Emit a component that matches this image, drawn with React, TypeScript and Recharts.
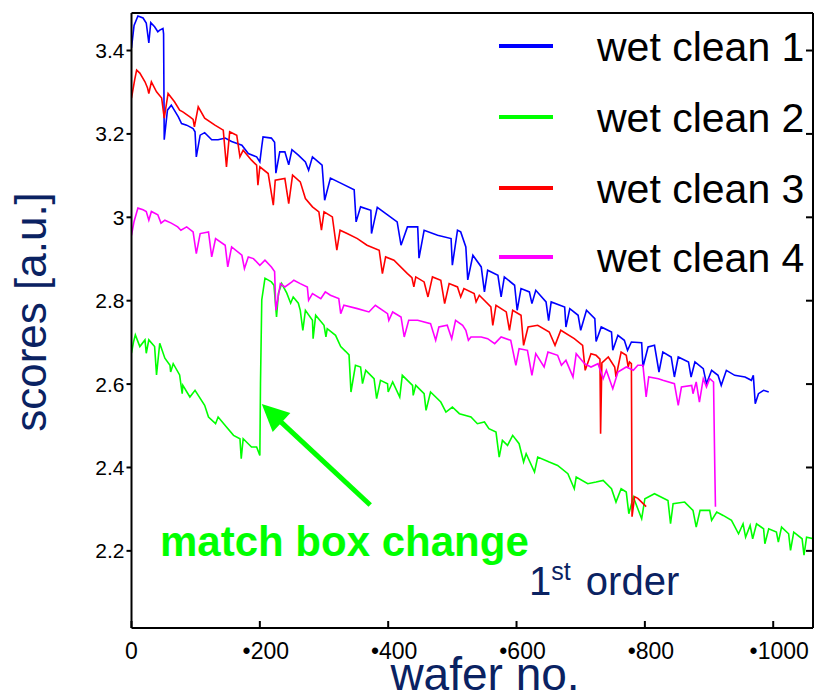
import React from "react";
import { LineChart, Line, XAxis, YAxis, ReferenceLine } from "recharts";

// series: [wafer no., score]
const wetClean1: [number, number][] = [
  [0, 3.406], [4, 3.46], [10, 3.483], [18, 3.478], [23, 3.466], [27, 3.418], [30, 3.467], [36, 3.457],
  [41, 3.445], [44, 3.449], [49, 3.453], [50, 3.44], [51, 3.186], [56, 3.257], [62, 3.269], [73, 3.241],
  [78, 3.225], [86, 3.221], [96, 3.213], [99, 3.205], [101, 3.145], [107, 3.197], [114, 3.203], [125, 3.186],
  [135, 3.186], [146, 3.19], [156, 3.182], [172, 3.173], [182, 3.153], [195, 3.145], [200, 3.133], [203, 3.17],
  [205, 3.193], [218, 3.19], [223, 3.18], [225, 3.106], [231, 3.157], [239, 3.157], [245, 3.126], [250, 3.162],
  [260, 3.149], [271, 3.133], [276, 3.113], [282, 3.145], [297, 3.125], [301, 3.041], [310, 3.094], [326, 3.082],
  [347, 3.066], [350, 2.989], [357, 3.025], [373, 3.017], [374, 2.961], [383, 3.024], [399, 3.006], [414, 2.989],
  [420, 2.933], [430, 2.977], [446, 2.977], [448, 2.902], [456, 2.969], [477, 2.957], [498, 2.949], [500, 2.885],
  [508, 2.969], [513, 2.965], [521, 2.929], [524, 2.85], [532, 2.909], [545, 2.881], [550, 2.821], [555, 2.873],
  [571, 2.861], [576, 2.809], [581, 2.857], [597, 2.837], [601, 2.777], [607, 2.829], [620, 2.821], [624, 2.793],
  [630, 2.825], [646, 2.797], [650, 2.752], [654, 2.797], [675, 2.785], [677, 2.737], [683, 2.781], [696, 2.765],
  [700, 2.729], [709, 2.777], [722, 2.757], [724, 2.702], [732, 2.737], [748, 2.725], [750, 2.681], [758, 2.717],
  [768, 2.705], [773, 2.681], [779, 2.701], [795, 2.699], [797, 2.641], [805, 2.689], [815, 2.693], [822, 2.629],
  [828, 2.677], [841, 2.665], [846, 2.617], [852, 2.665], [868, 2.653], [872, 2.617], [878, 2.653], [891, 2.637],
  [896, 2.601], [904, 2.633], [914, 2.621], [919, 2.597], [927, 2.633], [940, 2.621], [956, 2.617], [966, 2.609],
  [969, 2.621], [972, 2.553], [977, 2.577], [985, 2.585], [993, 2.581],
];

const wetClean2: [number, number][] = [
  [0, 2.674], [3, 2.7], [6, 2.718], [13, 2.69], [21, 2.706], [23, 2.674], [27, 2.706], [36, 2.69],
  [39, 2.622], [44, 2.698], [52, 2.662], [60, 2.645], [61, 2.629], [65, 2.649], [75, 2.622], [79, 2.577],
  [80, 2.597], [91, 2.569], [99, 2.585], [114, 2.549], [120, 2.521], [131, 2.505], [135, 2.521], [148, 2.497],
  [159, 2.477], [169, 2.469], [171, 2.421], [174, 2.469], [187, 2.449], [195, 2.449], [200, 2.429], [201, 2.6],
  [203, 2.802], [208, 2.854], [218, 2.845], [222, 2.837], [226, 2.761], [229, 2.818], [234, 2.841], [242, 2.818],
  [248, 2.794], [252, 2.809], [260, 2.794], [263, 2.777], [267, 2.729], [271, 2.777], [282, 2.753], [283, 2.709],
  [287, 2.765], [300, 2.741], [303, 2.713], [305, 2.733], [318, 2.717], [326, 2.69], [334, 2.678], [339, 2.67],
  [342, 2.581], [349, 2.645], [357, 2.641], [360, 2.601], [365, 2.633], [378, 2.613], [382, 2.565], [388, 2.609],
  [399, 2.601], [400, 2.581], [407, 2.605], [418, 2.569], [422, 2.621], [438, 2.597], [439, 2.573], [443, 2.597],
  [456, 2.577], [459, 2.537], [466, 2.581], [482, 2.557], [490, 2.533], [500, 2.545], [511, 2.529], [529, 2.521],
  [539, 2.505], [550, 2.509], [557, 2.493], [568, 2.485], [573, 2.425], [578, 2.465], [586, 2.453], [594, 2.477],
  [604, 2.457], [611, 2.413], [615, 2.433], [628, 2.389], [633, 2.425], [651, 2.413], [664, 2.405], [680, 2.385],
  [690, 2.349], [693, 2.377], [711, 2.361], [724, 2.365], [735, 2.369], [748, 2.349], [755, 2.317], [763, 2.349],
  [771, 2.341], [775, 2.289], [782, 2.329], [795, 2.277], [800, 2.325], [815, 2.337], [836, 2.321], [840, 2.265],
  [844, 2.313], [862, 2.317], [875, 2.297], [880, 2.257], [886, 2.297], [901, 2.297], [904, 2.273], [912, 2.293],
  [922, 2.285], [935, 2.273], [946, 2.241], [953, 2.265], [957, 2.233], [964, 2.261], [968, 2.229], [974, 2.265],
  [985, 2.253], [987, 2.217], [993, 2.253], [1005, 2.245], [1008, 2.221], [1013, 2.257], [1024, 2.241], [1027, 2.201],
  [1032, 2.245], [1045, 2.229], [1048, 2.19], [1052, 2.233], [1063, 2.229],
];

const wetClean3: [number, number][] = [
  [0, 3.286], [5, 3.33], [8, 3.353], [13, 3.346], [21, 3.325], [25, 3.31], [27, 3.297], [31, 3.325],
  [39, 3.301], [47, 3.286], [51, 3.238], [57, 3.297], [67, 3.277], [75, 3.257], [80, 3.253], [91, 3.241],
  [96, 3.235], [98, 3.217], [104, 3.265], [114, 3.238], [130, 3.221], [143, 3.209], [148, 3.121], [153, 3.205],
  [164, 3.197], [169, 3.145], [174, 3.161], [187, 3.137], [195, 3.125], [197, 3.077], [200, 3.121], [213, 3.105],
  [221, 3.029], [224, 3.089], [239, 3.093], [245, 3.033], [251, 3.101], [263, 3.085], [271, 3.045], [282, 3.025],
  [292, 3.013], [296, 2.969], [300, 3.013], [313, 3.001], [320, 2.921], [325, 2.969], [336, 2.961], [352, 2.949],
  [367, 2.933], [386, 2.921], [391, 2.865], [396, 2.905], [409, 2.897], [430, 2.865], [437, 2.855], [440, 2.833],
  [443, 2.857], [456, 2.845], [462, 2.809], [469, 2.857], [482, 2.849], [488, 2.793], [495, 2.841], [508, 2.833],
  [513, 2.809], [518, 2.829], [534, 2.817], [537, 2.797], [542, 2.813], [560, 2.785], [563, 2.741], [568, 2.789],
  [584, 2.773], [589, 2.729], [594, 2.777], [607, 2.765], [611, 2.693], [618, 2.737], [633, 2.741], [651, 2.725],
  [660, 2.693], [669, 2.729], [690, 2.709], [703, 2.693], [707, 2.633], [716, 2.673], [724, 2.669], [730, 2.66],
  [731, 2.481], [733, 2.651], [743, 2.665], [753, 2.641], [755, 2.617], [763, 2.677], [771, 2.669], [774, 2.641],
  [776, 2.653], [779, 2.649], [780, 2.282], [784, 2.33], [789, 2.326], [795, 2.317], [802, 2.306],
];

const wetClean4: [number, number][] = [
  [0, 2.957], [4, 2.99], [10, 3.022], [18, 3.018], [23, 3.014], [27, 2.993], [31, 3.014], [41, 3.006],
  [46, 2.986], [52, 2.993], [62, 2.986], [72, 2.977], [77, 2.969], [86, 2.977], [96, 2.965], [101, 2.913],
  [107, 2.961], [120, 2.965], [125, 2.905], [131, 2.949], [146, 2.933], [150, 2.881], [156, 2.929], [172, 2.909],
  [176, 2.877], [182, 2.905], [190, 2.901], [200, 2.885], [208, 2.897], [218, 2.881], [223, 2.87], [225, 2.777],
  [232, 2.841], [239, 2.833], [250, 2.845], [253, 2.849], [263, 2.841], [274, 2.833], [276, 2.801], [282, 2.817],
  [295, 2.805], [302, 2.821], [310, 2.813], [323, 2.805], [326, 2.769], [331, 2.789], [352, 2.781], [370, 2.773],
  [380, 2.789], [399, 2.769], [401, 2.753], [407, 2.773], [420, 2.761], [425, 2.713], [432, 2.753], [446, 2.753],
  [466, 2.745], [474, 2.705], [479, 2.737], [492, 2.741], [499, 2.709], [505, 2.753], [516, 2.741], [521, 2.729],
  [525, 2.705], [529, 2.713], [545, 2.713], [555, 2.709], [566, 2.697], [576, 2.713], [591, 2.705], [599, 2.645],
  [604, 2.685], [617, 2.681], [624, 2.621], [630, 2.673], [643, 2.641], [649, 2.677], [664, 2.669], [670, 2.645],
  [677, 2.657], [688, 2.617], [693, 2.673], [706, 2.649], [716, 2.641], [727, 2.649], [735, 2.613], [740, 2.633],
  [750, 2.589], [758, 2.629], [771, 2.641], [782, 2.633], [789, 2.645], [797, 2.645], [802, 2.569], [806, 2.617],
  [821, 2.613], [828, 2.609], [846, 2.601], [852, 2.549], [857, 2.593], [873, 2.597], [875, 2.577], [880, 2.605],
  [885, 2.557], [891, 2.613], [896, 2.593], [901, 2.613], [907, 2.605], [909, 2.394], [910, 2.306],
];

const seriesNames = ["wet clean 1", "wet clean 2", "wet clean 3", "wet clean 4"];
const seriesColors = ["#0000ff", "#00ff00", "#ff0000", "#ff00ff"];
const seriesData = [wetClean1, wetClean2, wetClean3, wetClean4];

const xTicks = [0, 200, 400, 600, 800, 1000];
const xTickLabels = ["0", "•200", "•400", "•600", "•800", "•1000"];
const yTicks = [2.2, 2.4, 2.6, 2.8, 3.0, 3.2, 3.4];

const X_DOMAIN: [number, number] = [0, 1062];
const Y_DOMAIN: [number, number] = [2.015, 3.49];

// arrow: tail / tip in data coords
const arrowTail = { x: 372, y: 2.31 };
const arrowTip = { x: 203, y: 2.552 };

const FONT = "'Liberation Sans', Arial, Helvetica, sans-serif";
const NAVY = "#0a2262";
const GREEN = "#00ff00";

const XTick = (props: any) => {
  const { x, y, payload } = props;
  const i = xTicks.indexOf(payload.value);
  return (
    <text x={x + (payload.value ? 6 : 0)} y={y} dy="0.71em" textAnchor="middle" fontSize={23} fill="#000" fontFamily={FONT}>
      {xTickLabels[i] ?? String(payload.value)}
    </text>
  );
};

const Arrow = (p: any) => {
  const { x1, y1, x2, y2 } = p;
  if (x1 == null) return null;
  const dx = x2 - x1;
  const dy = y2 - y1;
  const len = Math.sqrt(dx * dx + dy * dy);
  const ux = dx / len;
  const uy = dy / len;
  const headLen = 27;
  const half = 13;
  const bx = x2 - ux * headLen;
  const by = y2 - uy * headLen;
  return (
    <g>
      <line x1={x1} y1={y1} x2={bx + ux * 2} y2={by + uy * 2} stroke={GREEN} strokeWidth={5} />
      <polygon
        points={`${x2},${y2} ${bx - uy * half},${by + ux * half} ${bx + uy * half},${by - ux * half}`}
        fill={GREEN}
      />
    </g>
  );
};

export default function App() {
  const legendY = [46, 117, 188, 257];
  return (
    <div style={{ position: "absolute", left: 0, top: 0, width: 815, height: 693, background: "#fff" }}>
      <LineChart width={815} height={693} margin={{ top: 0, right: 2, bottom: 0, left: 0 }}>
        <XAxis
          xAxisId="b"
          dataKey="x"
          type="number"
          domain={X_DOMAIN}
          allowDataOverflow
          ticks={xTicks}
          height={65}
          tick={<XTick />}
          tickSize={-7}
          tickMargin={22}
          stroke="#000"
          strokeWidth={2}
        />
        {/* top frame edge, inward ticks, no labels */}
        <XAxis
          xAxisId="t"
          dataKey="x"
          orientation="top"
          type="number"
          domain={X_DOMAIN}
          allowDataOverflow
          ticks={xTicks}
          height={13}
          tick={false}
          tickSize={-7}
          stroke="#000"
          strokeWidth={2}
        />
        <YAxis
          yAxisId="l"
          type="number"
          domain={Y_DOMAIN}
          allowDataOverflow
          ticks={yTicks}
          width={131.5}
          tickSize={5}
          tickMargin={2}
          tickFormatter={(v: number) => String(+v.toFixed(1))}
          tick={{ fontSize: 21, fill: "#000", fontFamily: FONT }}
          stroke="#000"
          strokeWidth={2}
        />
        {/* right frame edge */}
        <YAxis
          yAxisId="r"
          orientation="right"
          type="number"
          domain={Y_DOMAIN}
          allowDataOverflow
          ticks={yTicks}
          width={1}
          mirror
          tickSize={7}
          tickFormatter={() => ""}
          stroke="#000"
          strokeWidth={2}
        />
        {seriesData.map((d, i) => (
          <Line
            key={seriesNames[i]}
            xAxisId="b"
            yAxisId="l"
            data={d.map(([x, y]) => ({ x, y }))}
            dataKey="y"
            name={seriesNames[i]}
            type="linear"
            stroke={seriesColors[i]}
            strokeWidth={1.6}
            dot={false}
            isAnimationActive={false}
          />
        ))}
        <Line
          xAxisId="t"
          yAxisId="r"
          data={wetClean2.map(([x, y]) => ({ x, y }))}
          dataKey="y"
          stroke="none"
          dot={false}
          legendType="none"
          isAnimationActive={false}
        />
        <ReferenceLine
          xAxisId="b"
          yAxisId="l"
          segment={[arrowTail, arrowTip]}
          shape={(p: any) => <Arrow {...p} />}
        />
      </LineChart>
      <svg width={815} height={693} style={{ position: "absolute", left: 0, top: 0, pointerEvents: "none" }} fontFamily={FONT}>
        {seriesNames.map((n, i) => (
          <g key={n}>
            <line x1={499} x2={553} y1={legendY[i]} y2={legendY[i]} stroke={seriesColors[i]} strokeWidth={4} />
            <text x={597} y={legendY[i] + 15} fontSize={41} fill="#000">
              {n}
            </text>
          </g>
        ))}
        <text x={160} y={556} fontSize={42} fontWeight="bold" fill={GREEN}>
          match box change
        </text>
        <text x={529} y={595} fontSize={40} fill={NAVY}>
          1
          <tspan dy={-15} fontSize={25}>st</tspan>
          <tspan dy={15} dx={4}> order</tspan>
        </text>
        <text transform="rotate(-90)" x={-312} y={46} textAnchor="middle" fontSize={44} fill={NAVY}>
          scores [a.u.]
        </text>
        <text x={485} y={690} textAnchor="middle" fontSize={46} fill={NAVY}>
          wafer no.
        </text>
      </svg>
    </div>
  );
}
